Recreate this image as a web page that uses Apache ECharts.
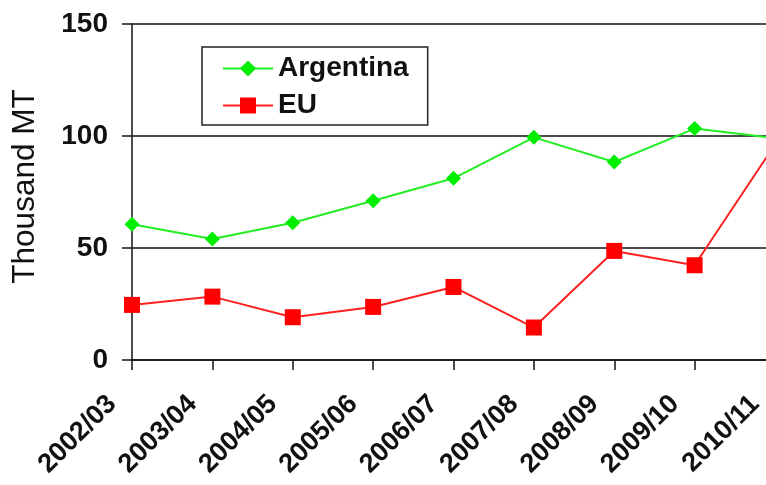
<!DOCTYPE html>
<html>
<head>
<meta charset="utf-8">
<script src="https://cdn.jsdelivr.net/npm/echarts@6/dist/echarts.min.js"></script>
<style>
  html, body { margin: 0; padding: 0; background: #fff; }
  #chart { width: 766px; height: 485px; }
</style>
</head>
<body>
<div id="chart"></div>
<script>
// Marketing years on the category axis
const years = ['2002/03', '2003/04', '2004/05', '2005/06', '2006/07', '2007/08', '2008/09', '2009/10', '2010/11'];
// Volumes in thousand metric tons
const argentina = [60.6, 54.0, 61.3, 71.1, 81.1, 99.4, 88.4, 103.3, 99.1];
const eu = [24.6, 28.3, 19.1, 23.7, 32.6, 14.5, 48.7, 42.3, 96.2];
// Value axis range
const yMin = 0, yMax = 150, yStep = 50;

const FONT = '"Liberation Sans", Arial, sans-serif';
const INK = '#111';

const chart = echarts.init(document.getElementById('chart'), null, { renderer: 'canvas' });
chart.setOption({
  animation: false,
  backgroundColor: '#fff',
  textStyle: { fontFamily: FONT },
  grid: {
    left: 132, top: 24, bottom: 125, right: -9,
    containLabel: false,
    outerBoundsMode: 'none'
  },
  legend: {
    orient: 'vertical',
    left: 202,
    top: 47,
    padding: [7, 19, 5, 20],
    itemGap: 8,
    itemWidth: 50,
    itemHeight: 20,
    backgroundColor: '#fff',
    borderColor: '#222',
    borderWidth: 1.5,
    borderRadius: 0,
    textStyle: { fontFamily: FONT, fontSize: 28, fontWeight: 'bold', color: INK, lineHeight: 29 },
    data: ['Argentina', 'EU']
  },
  xAxis: {
    type: 'category',
    data: years,
    boundaryGap: false,
    axisLine: { lineStyle: { color: INK, width: 1.5 } },
    axisTick: { show: true, alignWithLabel: true, length: 10, lineStyle: { color: INK, width: 1.5 } },
    axisLabel: {
      interval: 0,
      rotate: 45,
      margin: 20,
      padding: [0, 28, 0, 0],
      fontFamily: FONT,
      fontSize: 27,
      fontWeight: 'bold',
      color: INK
    },
    splitLine: { show: false }
  },
  yAxis: {
    type: 'value',
    min: yMin,
    max: yMax,
    interval: yStep,
    name: 'Thousand MT',
    nameLocation: 'middle',
    nameRotate: 90,
    nameGap: 91,
    nameTextStyle: { fontFamily: FONT, fontSize: 31.5, color: INK, padding: [0, 0, 0, 11] },
    axisLine: { show: true, lineStyle: { color: INK, width: 1.5 } },
    axisTick: { show: true, length: 10, lineStyle: { color: INK, width: 1.5 } },
    axisLabel: { margin: 24, fontFamily: FONT, fontSize: 28, fontWeight: 'bold', color: INK },
    splitLine: { show: true, lineStyle: { color: INK, width: 1.5 } }
  },
  series: [
    {
      name: 'Argentina',
      type: 'line',
      data: argentina,
      symbol: 'diamond',
      symbolSize: 15,
      lineStyle: { color: '#22ee22', width: 2 },
      itemStyle: { color: '#00ee00' },
      z: 3
    },
    {
      name: 'EU',
      type: 'line',
      data: eu,
      symbol: 'rect',
      symbolSize: 16,
      lineStyle: { color: '#ff2020', width: 2 },
      itemStyle: { color: '#ff0000' },
      z: 3
    }
  ]
});
</script>
</body>
</html>
